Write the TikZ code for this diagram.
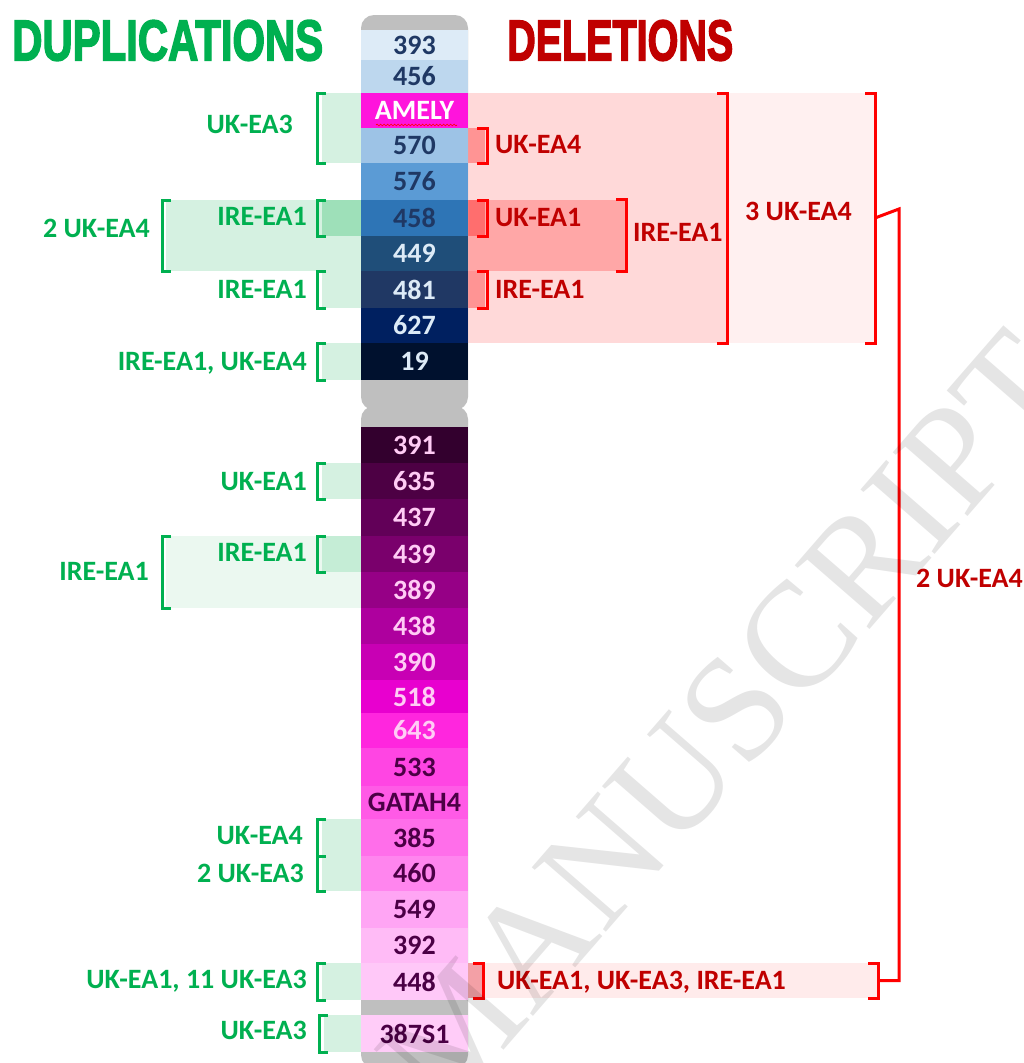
\documentclass[tikz,border=0pt]{standalone}
\usepackage{fontspec}
\setmainfont{Carlito}
\newfontfamily\titlefont{Liberation Sans}[FakeBold=3]
\newfontfamily\wmfont{Liberation Serif}
\usetikzlibrary{decorations.pathmorphing}
\definecolor{dupgreen}{HTML}{00B050}
\definecolor{delred}{HTML}{C00000}
\definecolor{brred}{HTML}{FF0000}
\definecolor{navy}{HTML}{1F3864}
\definecolor{lblue}{HTML}{DDEBF7}
\definecolor{lpink}{HTML}{FFCCF5}
\definecolor{dpurple}{HTML}{4B0045}
\definecolor{chrgrey}{HTML}{BFBFBF}
\definecolor{gshade}{HTML}{D5F1E1}
\definecolor{gdark}{HTML}{9EE0B9}
\definecolor{glight}{HTML}{EBF8F0}
\definecolor{gmid}{HTML}{C5EDD6}
\definecolor{rbig}{HTML}{FFD9D9}
\definecolor{router}{HTML}{FFF0F0}
\definecolor{rmed}{HTML}{FFA7A7}
\definecolor{rsmall}{HTML}{FF9494}
\definecolor{rdark}{HTML}{FF6E6E}
\definecolor{rbot}{HTML}{FFEBEB}
\definecolor{rbotdark}{HTML}{F3A0A6}
% band colours
\definecolor{c393}{HTML}{DDEBF7}
\definecolor{c456}{HTML}{BDD7EE}
\definecolor{camely}{HTML}{FF14DC}
\definecolor{c570}{HTML}{9DC3E6}
\definecolor{c576}{HTML}{5B9BD5}
\definecolor{c458}{HTML}{2E75B6}
\definecolor{c449}{HTML}{1F4E79}
\definecolor{c481}{HTML}{203864}
\definecolor{c627}{HTML}{002060}
\definecolor{c19}{HTML}{00112E}
\definecolor{c391}{HTML}{33002E}
\definecolor{c635}{HTML}{4D0044}
\definecolor{c437}{HTML}{620058}
\definecolor{c439}{HTML}{7A006C}
\definecolor{c389}{HTML}{960086}
\definecolor{c438}{HTML}{AE009E}
\definecolor{c390}{HTML}{C800B4}
\definecolor{c518}{HTML}{E800CF}
\definecolor{c643}{HTML}{FF26DE}
\definecolor{c533}{HTML}{FF45E3}
\definecolor{cgatah}{HTML}{FF5AE6}
\definecolor{c385}{HTML}{FF6EEA}
\definecolor{c460}{HTML}{FF85EE}
\definecolor{c549}{HTML}{FFA5F4}
\definecolor{c392}{HTML}{FFBBF6}
\definecolor{c448}{HTML}{FFC8F8}
\definecolor{c387}{HTML}{FFCCF8}
\newcommand{\chband}[6]{%
  \fill[#3] (361,#1) rectangle (468,#2);
  \node[bandtxt,text=#4] (#6) at (414.5,{(#1+#2)/2}) {#5};}
\newcommand{\grnbrk}[4]{%
  \draw[gbr] (#1+9,#2) -- (#1,#2) -- (#1,#3) -- (#1+9,#3);
  \coordinate (#4) at (#1,{(#2+#3)/2});}
\newcommand{\redbrk}[4]{%
  \draw[rbr] (#1-10,#2) -- (#1,#2) -- (#1,#3) -- (#1-10,#3);
  \coordinate (#4) at (#1,{(#2+#3)/2});}
\tikzset{
  bandtxt/.style={inner sep=0pt, font=\fontsize{28}{28}\selectfont\bfseries},
  glab/.style={inner sep=0pt, anchor=base east, text=dupgreen, font=\fontsize{28}{28}\selectfont\bfseries},
  rlab/.style={inner sep=0pt, anchor=base west, text=delred, font=\fontsize{28}{28}\selectfont\bfseries},
  gbr/.style={draw=dupgreen, line width=3pt},
  rbr/.style={draw=brred, line width=3pt},
}
\begin{document}
\begin{tikzpicture}[x=1pt,y=-1pt]
\useasboundingbox (0,0) rectangle (1023,1063);
\fill[white] (0,0) rectangle (1023,1063);
% titles
\node[anchor=north west, inner sep=0pt] (dup) at (12,20) {\resizebox{311pt}{40pt}{\color{dupgreen}\titlefont\bfseries DUPLICATIONS}};
\node[anchor=north west, inner sep=0pt] (del) at (507,20) {\resizebox{226pt}{40pt}{\color{delred}\titlefont\bfseries DELETIONS}};
% ---------- green shading ----------
\fill[gshade] (322,93) rectangle (361,163);
\fill[gshade] (166,200) rectangle (361,271);
\fill[gdark] (322,200) rectangle (361,236);
\fill[gshade] (322,271) rectangle (361,308);
\fill[gshade] (322,343) rectangle (361,380);
\fill[gshade] (322,463) rectangle (361,499);
\fill[glight] (166,536) rectangle (361,608);
\fill[gmid] (322,536) rectangle (361,572);
\fill[gshade] (322,819) rectangle (361,891);
\fill[gshade] (322,963) rectangle (361,1000);
\fill[gshade] (324,1015) rectangle (361,1052);
% ---------- red shading ----------
\fill[router] (727,93) rectangle (875,343);
\fill[rbig] (468,93) rectangle (727,343);
\fill[rmed] (468,200) rectangle (626,271);
\fill[rsmall] (468,128) rectangle (485,163);
\fill[rdark] (468,200) rectangle (485,236);
\fill[rsmall] (468,271) rectangle (485,308);
\fill[rbot] (483,963) rectangle (878,998);
\fill[rbotdark] (468,963) rectangle (483,998);
% ---------- chromosome ----------
\fill[chrgrey, rounded corners=13pt] (361,15) rectangle (468,410);
\fill[chrgrey, rounded corners=13pt] (361,406) rectangle (468,1068);
\chband{30}{60}{c393}{navy}{393}{b393}
\chband{60}{93}{c456}{navy}{456}{b456}
\chband{93}{128}{camely}{white}{AMELY}{bamely}
\chband{128}{163}{c570}{navy}{570}{b570}
\chband{163}{200}{c576}{navy}{576}{b576}
\chband{200}{236}{c458}{navy}{458}{b458}
\chband{236}{271}{c449}{lblue}{449}{b449}
\chband{271}{308}{c481}{lblue}{481}{b481}
\chband{308}{343}{c627}{lblue}{627}{b627}
\chband{343}{380}{c19}{lblue}{19}{b19}
\chband{427}{463}{c391}{lpink}{391}{b391}
\chband{463}{499}{c635}{lpink}{635}{b635}
\chband{499}{536}{c437}{lpink}{437}{b437}
\chband{536}{572}{c439}{lpink}{439}{b439}
\chband{572}{608}{c389}{lpink}{389}{b389}
\chband{608}{644}{c438}{lpink}{438}{b438}
\chband{644}{680}{c390}{lpink}{390}{b390}
\chband{680}{713}{c518}{lpink}{518}{b518}
\chband{713}{748}{c643}{lpink}{643}{b643}
\chband{748}{786}{c533}{dpurple}{533}{b533}
\chband{786}{819}{cgatah}{dpurple}{GATAH4}{bgatah}
\chband{819}{856}{c385}{dpurple}{385}{b385}
\chband{856}{891}{c460}{dpurple}{460}{b460}
\chband{891}{928}{c549}{dpurple}{549}{b549}
\chband{928}{963}{c392}{dpurple}{392}{b392}
\chband{963}{1000}{c448}{dpurple}{448}{b448}
\chband{1015}{1052}{c387}{dpurple}{387S1}{b387}
\draw[brred, line width=0.6pt, decorate, decoration={snake, amplitude=0.9pt, segment length=3.5pt}] (376,125) -- (457,125);
% ---------- green brackets + labels ----------
\grnbrk{317}{93}{163}{gA}
\node[glab] (lA) at (293,133) {UK-EA3};
\grnbrk{162}{200}{271}{gB}
\node[glab] (lB) at (150,237) {2 UK-EA4};
\grnbrk{317}{200}{236}{gC}
\node[glab] (lC) at (307,225) {IRE-EA1};
\grnbrk{317}{271}{308}{gD}
\node[glab] (lD) at (307,298) {IRE-EA1};
\grnbrk{317}{343}{380}{gE}
\node[glab] (lE) at (307,370) {IRE-EA1, UK-EA4};
\grnbrk{317}{463}{499}{gF}
\node[glab] (lF) at (307,490) {UK-EA1};
\grnbrk{162}{536}{608}{gG}
\node[glab] (lG) at (149,580) {IRE-EA1};
\grnbrk{317}{536}{572}{gH}
\node[glab] (lH) at (307,561) {IRE-EA1};
\grnbrk{317}{819}{891}{gI}
\draw[gbr] (317,856) -- (326,856);
\node[glab] (lI) at (303,844) {UK-EA4};
\node[glab] (lJ) at (304,882) {2 UK-EA3};
\grnbrk{317}{963}{1000}{gK}
\node[glab] (lK) at (307,988) {UK-EA1, 11 UK-EA3};
\grnbrk{319}{1015}{1052}{gL}
\node[glab] (lL) at (307,1039) {UK-EA3};
% ---------- red brackets + labels ----------
\redbrk{487}{128}{163}{rA}
\node[rlab] (mA) at (495,153) {UK-EA4};
\redbrk{487}{200}{236}{rB}
\node[rlab] (mB) at (495,226) {UK-EA1};
\redbrk{487}{271}{308}{rC}
\node[rlab] (mC) at (495,298) {IRE-EA1};
\redbrk{626}{199}{271}{rD}
\node[rlab] (mD) at (633,241) {IRE-EA1};
\redbrk{727}{93}{343}{rE}
\node[rlab] (mE) at (745,220) {3 UK-EA4};
\redbrk{875}{93}{343}{rF}
\redbrk{483}{963}{998}{rG}
\node[rlab] (mG) at (497,989) {UK-EA1, UK-EA3, IRE-EA1};
\redbrk{878}{963}{998}{rH}
\coordinate (jn) at (899,209);
\draw[rbr] (rF) -- (jn) |- (rH);
\node[rlab] (mF) at (916,587) {2 UK-EA4};
% ---------- watermark ----------
\node[rotate=49, anchor=base west, inner sep=0pt, text=black, text opacity=0.1, font=\fontsize{150}{150}\selectfont\wmfont] (wm) at (445,1118) {MANUSCRIPT};
\end{tikzpicture}
\end{document}
